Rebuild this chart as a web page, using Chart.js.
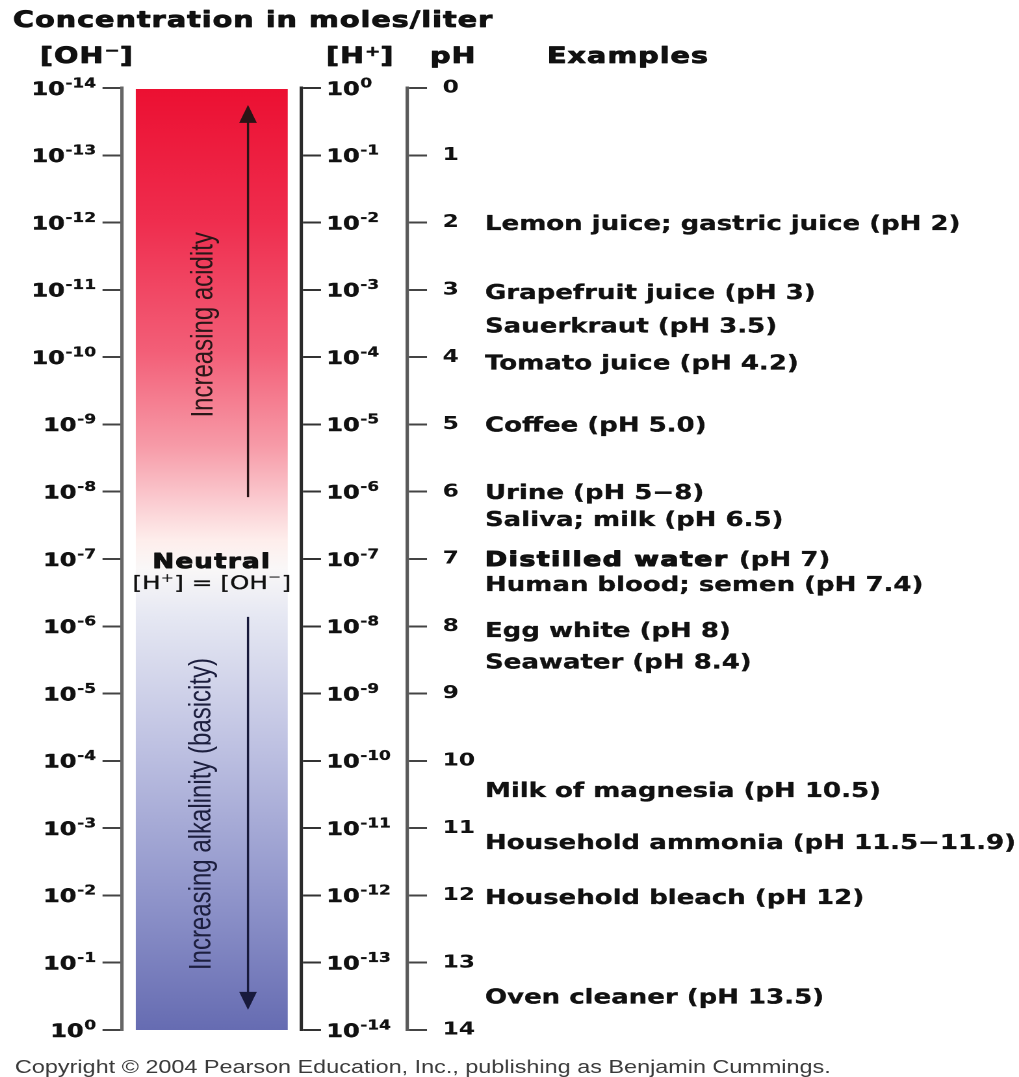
<!DOCTYPE html>
<html><head><meta charset="utf-8">
<title>pH scale</title>
<script src="https://cdn.jsdelivr.net/npm/chart.js@4.4.1/dist/chart.umd.min.js"></script>
<style>
html,body{margin:0;padding:0;background:#fff;overflow:hidden;width:1019px;height:1077px;}
#wrap{position:absolute;left:0;top:0;width:784px;height:1077px;transform:scaleX(1.299745);transform-origin:0 0;}
canvas{display:block;}
</style></head><body>
<div id="wrap"><canvas id="chart"></canvas></div>
<script>
// ---------------- data ----------------
const phValues = [0,1,2,3,4,5,6,7,8,9,10,11,12,13,14];
const hPlusExponents = [0,-1,-2,-3,-4,-5,-6,-7,-8,-9,-10,-11,-12,-13,-14];
const ohMinusExponents = [-14,-13,-12,-11,-10,-9,-8,-7,-6,-5,-4,-3,-2,-1,0];
const exampleLabels = [
  'Lemon juice; gastric juice (pH 2)',
  'Grapefruit juice (pH 3)',
  'Sauerkraut (pH 3.5)',
  'Tomato juice (pH 4.2)',
  'Coffee (pH 5.0)',
  'Urine (pH 5\u22128)',
  'Saliva; milk (pH 6.5)',
  'Distilled water (pH 7)',
  'Human blood; semen (pH 7.4)',
  'Egg white (pH 8)',
  'Seawater (pH 8.4)',
  'Milk of magnesia (pH 10.5)',
  'Household ammonia (pH 11.5\u221211.9)',
  'Household bleach (pH 12)',
  'Oven cleaner (pH 13.5)'
];
const examplePositions = [2, 3.03, 3.53, 4.08, 5, 6, 6.4, 7, 7.37, 8.05, 8.52, 10.43, 11.2, 12.02, 13.5];
const emphasisedExample = 'Distilled water';
const colourRange = [0, 14];
const arrowRanges = [[6.08, 0.25], [7.86, 13.7]];
const directionLabels = ['Increasing acidity', 'Increasing alkalinity (basicity)'];
const directionCentres = [3.52, 10.79];

// ---------------- layout helpers ----------------
const SX = 1019 / 784;           // horizontal stretch of the picture
const R = v => v / SX;           // reference px -> canvas px (x only)
const FB = s => `bold ${s}px "DejaVu Sans"`;
const FN = s => `${s}px "DejaVu Sans"`;

function setLS(ctx, v) { if ('letterSpacing' in ctx) ctx.letterSpacing = v + 'px'; }

function drawRich(ctx, x, y, parts, align) {
  ctx.save();
  ctx.textBaseline = 'alphabetic';
  ctx.textAlign = 'left';
  let total = 0;
  for (const p of parts) {
    ctx.font = p.font; setLS(ctx, p.ls || 0);
    p.w = ctx.measureText(p.text).width + (p.gap || 0);
    total += p.w;
  }
  let cx = align === 'right' ? x - total : align === 'center' ? x - total / 2 : x;
  for (const p of parts) {
    ctx.font = p.font; setLS(ctx, p.ls || 0);
    ctx.fillStyle = p.color || '#111';
    const yy = y + (p.dy || 0);
    ctx.fillText(p.text, cx, yy);
    if (p.stroke) {
      ctx.lineWidth = p.stroke; ctx.strokeStyle = ctx.fillStyle; ctx.lineJoin = 'round';
      ctx.strokeText(p.text, cx, yy);
    }
    cx += p.w;
  }
  setLS(ctx, 0);
  ctx.restore();
}

function expParts(e) {
  return [
    { text: '10', font: FB(18.5), stroke: 0.4, gap: 0.5 },
    { text: e < 0 ? '-' + (-e) : String(e), font: FB(13), dy: -7.5, stroke: 0.3 }
  ];
}

function barGradient(context) {
  const chart = context.chart;
  const y = chart.scales.ph;
  if (!y || !chart.chartArea) return 'rgb(250,200,205)';
  const g = chart.ctx.createLinearGradient(0, y.getPixelForValue(colourRange[0]), 0, y.getPixelForValue(colourRange[1]));
  const stops = [
    [0.00, 'rgb(236,16,50)'],
    [0.14, 'rgb(239,45,78)'],
    [0.28, 'rgb(243,95,120)'],
    [0.38, 'rgb(247,155,168)'],
    [0.44, 'rgb(251,205,210)'],
    [0.48, 'rgb(254,238,236)'],
    [0.51, 'rgb(250,248,248)'],
    [0.56, 'rgb(230,232,243)'],
    [0.70, 'rgb(190,193,226)'],
    [0.85, 'rgb(146,151,204)'],
    [1.00, 'rgb(102,108,178)']
  ];
  stops.forEach(s => g.addColorStop(s[0], s[1]));
  return g;
}

function drawArrow(ctx, x, yTail, yTip, color) {
  const dir = Math.sign(yTip - yTail);
  const headLen = 18, headHalf = 6.8;
  ctx.save();
  ctx.strokeStyle = color; ctx.fillStyle = color; ctx.lineWidth = 1.7;
  ctx.beginPath(); ctx.moveTo(x, yTail); ctx.lineTo(x, yTip - dir * headLen * 0.7); ctx.stroke();
  ctx.beginPath();
  ctx.moveTo(x, yTip);
  ctx.lineTo(x - headHalf, yTip - dir * headLen);
  ctx.lineTo(x + headHalf, yTip - dir * headLen);
  ctx.closePath(); ctx.fill();
  ctx.restore();
}

const decor = {
  id: 'decor',
  afterDraw(chart) {
    const ctx = chart.ctx;
    const ph = chart.scales.ph, oh = chart.scales.oh, hp = chart.scales.h;
    const bar = chart.getDatasetMeta(0).data[0];
    const barX = bar ? bar.x : (chart.chartArea.left + chart.chartArea.right) / 2;

    // superscript tick labels of the two concentration axes
    oh.ticks.forEach(t => drawRich(ctx, oh.right - 15 - 5, oh.getPixelForValue(t.value) + 6.8, expParts(t.value), 'right'));
    hp.ticks.forEach(t => drawRich(ctx, hp.left + 15 + 4, hp.getPixelForValue(t.value) + 6.8, expParts(t.value), 'left'));

    // arrows
    const arrowX = R(248);
    drawArrow(ctx, arrowX, ph.getPixelForValue(arrowRanges[0][0]), ph.getPixelForValue(arrowRanges[0][1]), '#2a1416');
    drawArrow(ctx, arrowX, ph.getPixelForValue(arrowRanges[1][0]), ph.getPixelForValue(arrowRanges[1][1]), '#181a3c');

    // rotated direction labels
    const rotX = [R(204), R(202)];
    const rotCol = ['#2a1618', '#1c1e3e'];
    directionLabels.forEach((txt, i) => {
      ctx.save();
      ctx.translate(rotX[i], ph.getPixelForValue(directionCentres[i]));
      ctx.rotate(-Math.PI / 2);
      ctx.font = '24px "Liberation Sans", Arial, sans-serif';
      ctx.fillStyle = rotCol[i];
      ctx.textAlign = 'center'; ctx.textBaseline = 'middle';
      ctx.fillText(txt, 0, 0);
      ctx.restore();
    });

    // neutral label
    drawRich(ctx, barX, 568, [{ text: 'Neutral', font: FB(20), ls: 1, stroke: 0.9 }], 'center');
    drawRich(ctx, barX, 589, [
      { text: '[H', font: FN(19), stroke: 0.3 },
      { text: '+', font: FN(12.5), dy: -7 },
      { text: '] = [OH', font: FN(19), stroke: 0.3 },
      { text: '\u2212', font: FN(12.5), dy: -8 },
      { text: ']', font: FN(19), stroke: 0.3 }
    ], 'center');

    // examples
    const exX = R(485);
    exampleLabels.forEach((lab, i) => {
      const y = ph.getPixelForValue(examplePositions[i]) + 7.2;
      if (lab.startsWith(emphasisedExample)) {
        drawRich(ctx, exX, y, [
          { text: emphasisedExample, font: FB(20.5), ls: 1.2, stroke: 1.1, gap: 1 },
          { text: lab.slice(emphasisedExample.length), font: FB(20), stroke: 0.3 }
        ], 'left');
      } else {
        drawRich(ctx, exX, y, [{ text: lab, font: FB(20), stroke: 0.3 }], 'left');
      }
    });

    // title and column headers
    drawRich(ctx, R(13), 27, [{ text: 'Concentration in moles/liter', font: FB(22), ls: 0.8, stroke: 0.8 }], 'left');
    drawRich(ctx, R(40), 63, [
      { text: '[OH', font: FB(22), ls: 0.8, stroke: 0.8 },
      { text: '\u2212', font: FB(14), dy: -8, stroke: 0.5 },
      { text: ']', font: FB(22), stroke: 0.8 }
    ], 'left');
    drawRich(ctx, R(326), 63, [
      { text: '[H', font: FB(22), ls: 0.8, stroke: 0.8 },
      { text: '+', font: FB(14), dy: -7, stroke: 0.5 },
      { text: ']', font: FB(22), stroke: 0.8 }
    ], 'left');
    drawRich(ctx, R(430), 63, [{ text: 'pH', font: FB(22), ls: 0.8, stroke: 0.8 }], 'left');
    drawRich(ctx, R(547), 63, [{ text: 'Examples', font: FB(22), ls: 0.8, stroke: 0.8 }], 'left');

    // copyright line
    drawRich(ctx, R(15), 1073, [{ text: 'Copyright \u00a9 2004 Pearson Education, Inc., publishing as Benjamin Cummings.', font: '18px "Liberation Sans", Arial, sans-serif', color: '#3a3a3a' }], 'left');
  }
};

const tickGrid = (col) => ({ drawOnChartArea: false, drawTicks: true, tickLength: 15, color: col, lineWidth: 2 });

new Chart(document.getElementById('chart'), {
  type: 'bar',
  data: {
    labels: ['pH'],
    datasets: [{
      data: [colourRange],
      xAxisID: 'x',
      yAxisID: 'ph',
      backgroundColor: barGradient,
      borderWidth: 0,
      barPercentage: 0.8466,
      categoryPercentage: 1
    }]
  },
  options: {
    responsive: true,
    maintainAspectRatio: false,
    animation: false,
    devicePixelRatio: 2,
    layout: { padding: { left: 0, top: 88, bottom: 47, right: 784 - R(301.5) - R(106) - 60 } },
    plugins: { legend: { display: false }, tooltip: { enabled: false }, title: { display: false } },
    scales: {
      x: { type: 'category', display: false },
      oh: {
        type: 'linear', position: 'left', min: -14, max: 0, reverse: true,
        afterBuildTicks: s => { s.ticks = ohMinusExponents.map(v => ({ value: v })); },
        afterFit: s => { s.width = R(122); },
        grid: tickGrid('#444'),
        border: { display: true, color: '#666', width: 2.6 },
        ticks: { display: false }
      },
      h: {
        type: 'linear', position: 'right', weight: 1, min: -14, max: 0,
        afterBuildTicks: s => { s.ticks = hPlusExponents.map(v => ({ value: v })); },
        afterFit: s => { s.width = R(106); },
        grid: tickGrid('#333'),
        border: { display: true, color: '#2a2a2a', width: 2.6 },
        ticks: { display: false }
      },
      ph: {
        type: 'linear', position: 'right', weight: 2, min: 0, max: 14, reverse: true,
        afterBuildTicks: s => { s.ticks = phValues.map(v => ({ value: v })); },
        afterFit: s => { s.width = 60; },
        grid: tickGrid('#444'),
        border: { display: true, color: '#5a5a5a', width: 2.6 },
        ticks: { display: true, padding: 12, color: '#111', font: { family: 'DejaVu Sans', weight: 'bold', size: 18 } }
      }
    }
  },
  plugins: [decor]
});
</script>
</body></html>
